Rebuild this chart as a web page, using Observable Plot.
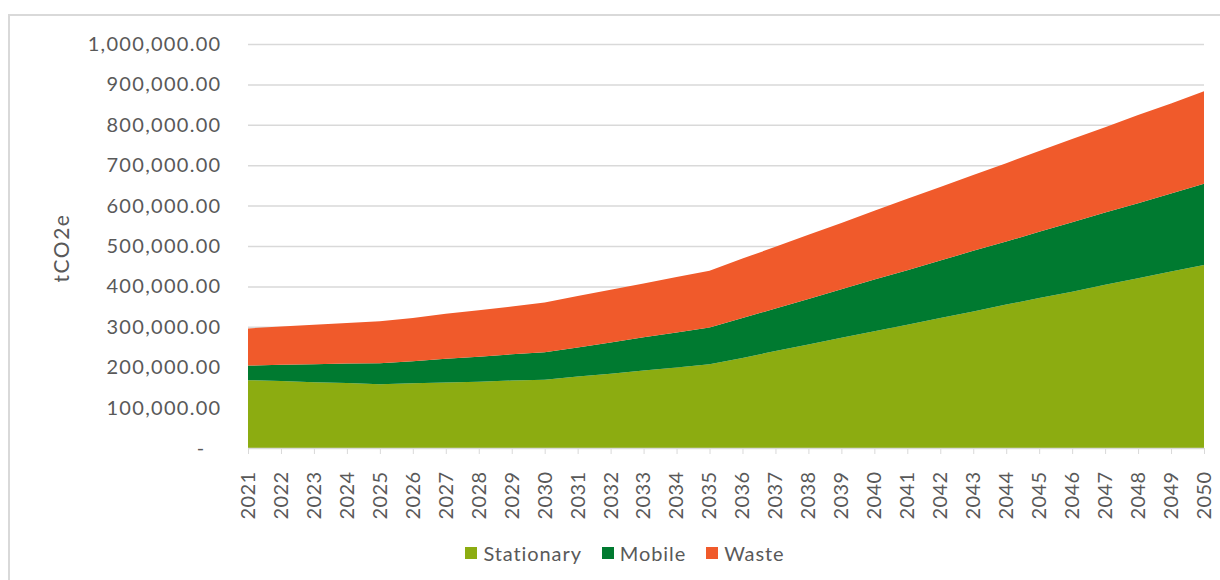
<!DOCTYPE html>
<html><head><meta charset="utf-8">
<script src="https://cdn.jsdelivr.net/npm/d3@7"></script>
<script src="https://cdn.jsdelivr.net/npm/@observablehq/plot@0.6"></script>
<style>
body{margin:0;background:#fff;font-family:Lato,"Open Sans",sans-serif;}
#wrap{position:relative;width:1220px;height:580px;overflow:hidden;background:#fff;}
#frame{position:absolute;left:8px;top:14px;width:1240px;height:620px;border:2px solid #d9d9d9;box-sizing:border-box;}
#chart{position:absolute;left:0;top:0;}
#ytitle{position:absolute;left:60px;top:248px;transform:translate(-50%,-50%) rotate(-90deg);font-size:21px;letter-spacing:1.5px;color:#595959;white-space:nowrap;}
#legend{position:absolute;left:0;width:1250px;top:541px;display:flex;justify-content:center;gap:0;font-size:20px;letter-spacing:0.9px;color:#595959;}
.item{display:flex;align-items:center;margin:0 10px;}
.sw{width:12px;height:12px;margin-right:6px;}
</style></head>
<body>
<div id="wrap">
<div id="frame"></div>
<div id="chart"></div>
<div id="ytitle">tCO2e</div>
<div id="legend"></div>
</div>
<script>
const years = [2021,2022,2023,2024,2025,2026,2027,2028,2029,2030,2031,2032,2033,2034,2035,2036,2037,2038,2039,2040,2041,2042,2043,2044,2045,2046,2047,2048,2049,2050];
const seriesNames = ["Stationary","Mobile","Waste"];
const seriesColors = ["#8CAC11","#007A30","#F05A2B"];
const stationary = [168000,166000,163000,161000,158000,160000,162000,164000,167000,169000,177000,184000,192000,199000,207000,223000,240000,256000,273000,289000,305000,322000,338000,355000,371000,387000,404000,420000,437000,453000];
const mobile = [36000,40000,44000,48000,52000,55000,59000,62000,65000,68000,72000,77000,82000,87000,91000,99000,105000,113000,120000,128000,135000,142000,150000,156000,164000,172000,179000,186000,193000,201000];
const waste = [92000,94500,98000,100500,104000,107000,111000,115000,118000,123000,127000,131000,133000,137000,141000,147000,153000,159000,164000,170000,177000,182000,188000,194000,200000,206000,211000,218000,223000,229000];
const yTicks = [0,100000,200000,300000,400000,500000,600000,700000,800000,900000,1000000];

const values = [stationary, mobile, waste];
const data = [];
seriesNames.forEach((s, i) => years.forEach((yr, j) => data.push({year: yr, series: s, value: values[i][j]})));

const fmt = d3.format(",.2f");
const plot = Plot.plot({
  width: 1220,
  height: 530,
  marginLeft: 248,
  marginRight: 16,
  marginTop: 44,
  marginBottom: 82,
  style: {fontFamily: 'Lato, "Open Sans", sans-serif', fontSize: "20px", color: "#595959", background: "transparent"},
  x: {type: "linear", domain: [2021, 2050]},
  y: {domain: [0, 1000000]},
  color: {domain: seriesNames, range: seriesColors},
  marks: [
    Plot.ruleY(yTicks.filter(d => d > 0), {stroke: "#d9d9d9", strokeWidth: 1.5}),
    Plot.areaY(data, {x: "year", y: "value", fill: "series", z: "series"}),
    Plot.ruleY([0], {stroke: "#d9d9d9", strokeWidth: 1.5}),
    Plot.axisX({ticks: years, tickFormat: d => String(d), tickRotate: -90, tickSize: 6, tickPadding: 17, stroke: "#d9d9d9", fill: "#595959", label: null, ariaLabel: "x-axis"}),
    Plot.axisY({ticks: yTicks, tickFormat: d => d === 0 ? "-" : fmt(d), tickSize: 0, tickPadding: 27, fill: "#595959", label: null, ariaLabel: "y-axis"})
  ]
});
document.getElementById("chart").appendChild(plot);
plot.querySelectorAll('[aria-label="y-axis tick label"] text, [aria-label="y-axis"] text').forEach(t => {
  t.style.letterSpacing = "1.3px";
  if (t.textContent === "-") t.setAttribute("dx", "-16"); // accounting-format dash
});
plot.querySelectorAll('[aria-label="x-axis tick label"] text, [aria-label="x-axis"] text').forEach(t => {
  t.style.letterSpacing = "0.4px";
});

const lg = document.getElementById("legend");
seriesNames.forEach((s, i) => {
  const it = document.createElement("div"); it.className = "item";
  const sw = document.createElement("div"); sw.className = "sw"; sw.style.background = seriesColors[i];
  const tx = document.createElement("span"); tx.textContent = s;
  it.appendChild(sw); it.appendChild(tx); lg.appendChild(it);
});
</script>
</body></html>
